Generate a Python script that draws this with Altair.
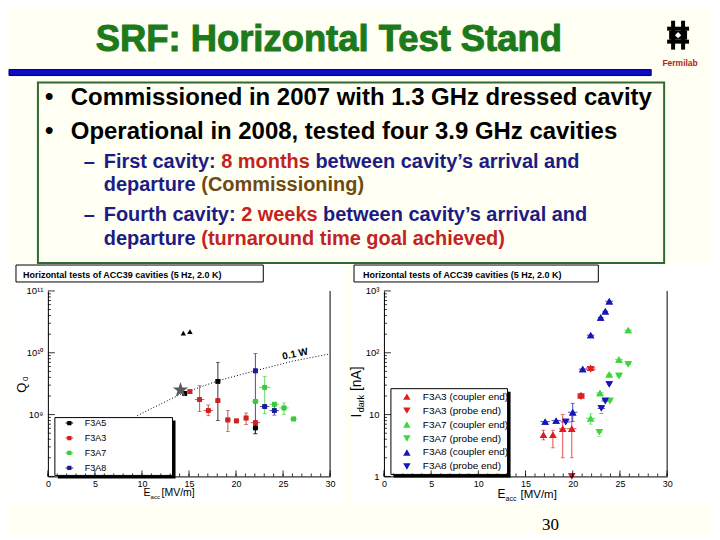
import altair as alt
import pandas as pd

SANS = "Liberation Sans, Arial, Helvetica, sans-serif"
SERIF = "Liberation Serif, Times New Roman, serif"
BG = "#fffff3"
GREEN_T = "#1c7a1c"
NAVY = "#1c1c84"
RED_T = "#c22323"
BROWN = "#6e4a12"

# ---------------- slide text ----------------
TITLE = "SRF: Horizontal Test Stand"
LOGO_TEXT = "Fermilab"
BULLETS = ["Commissioned in 2007 with 1.3 GHz dressed cavity",
           "Operational in 2008, tested four 3.9 GHz cavities"]
SUB1 = [["First cavity:", "8 months", "between cavity\u2019s arrival and"],
        ["departure", "(Commissioning)"]]
SUB2 = [["Fourth cavity:", "2 weeks", "between cavity\u2019s arrival and"],
        ["departure", "(turnaround time goal achieved)"]]
PLOT_TITLE = "Horizontal tests of ACC39 cavities (5 Hz, 2.0 K)"
PAGE_NUMBER = "30"

# ---------------- left plot: Q0 vs Eacc ----------------
L_SERIES = ["F3A5", "F3A3", "F3A7", "F3A8"]
L_COLORS = ["#000000", "#cc2222", "#36cc36", "#1c1c92"]

F3A5_E = [14.55, 18.07, 22.06]
F3A5_Q = [2.2e9, 3.45e9, 6.1e8]
F3A5_LO = [None, 8.0e8, 4.9e8]
F3A5_HI = [None, 7.0e9, 7.5e8]
F3A5_XE = [0.0, 0.0, 0.3]

F3A3_E = [15.1, 16.13, 17.05, 18.07, 19.13, 20.05, 21.07, 22.06]
F3A3_Q = [2.35e9, 1.75e9, 1.16e9, 1.68e9, 8.2e8, 7.9e8, 8.8e8, 7.4e8]
F3A3_LO = [None, 1.12e9, 9.6e8, None, 5.3e8, None, 6.9e8, None]
F3A3_HI = [None, 2.94e9, 1.43e9, None, 1.16e9, None, 1.06e9, None]
F3A3_XE = [0.0, 0.5, 0.5, 0.0, 0.3, 0.3, 0.0, 0.5]

F3A7_E = [22.06, 23.05, 24.07, 25.1, 26.12]
F3A7_Q = [1.64e9, 2.76e9, 1.47e9, 1.28e9, 8.5e8]
F3A7_LO = [None, 1.03e9, None, 1.01e9, None]
F3A7_HI = [None, 4.15e9, None, 1.54e9, None]
F3A7_XE = [0.4, 0.6, 0.5, 0.5, 0.4]

F3A8_E = [22.06, 23.05, 24.07]
F3A8_Q = [5.1e9, 1.35e9, 1.16e9]
F3A8_LO = [4.9e8, None, 9.8e8]
F3A8_HI = [9.7e9, None, 1.4e9]
F3A8_XE = [0.0, 0.5, 0.5]

TRI_E = [14.4, 15.1]          # black triangles (no legend entry)
TRI_Q = [2.08e10, 2.2e10]
STAR_E = [14.1]               # grey star
STAR_Q = [2.5e9]

LINE_E = [9.5, 14.0, 18.0, 22.0, 26.0, 30.0]   # 0.1 W curve
LINE_Q = [9.6e8, 2.1e9, 3.5e9, 5.1e9, 7.3e9, 9.6e9]
LINE_LABEL = "0.1 W"
LINE_LABEL_E = [25.0]
LINE_LABEL_Q = [7.7e9]

# ---------------- right plot: Idark vs Eacc ----------------
R_SERIES = ["F3A3 (coupler end)", "F3A3 (probe end)", "F3A7 (coupler end)",
            "F3A7 (probe end)", "F3A8 (coupler end)", "F3A8 (probe end)"]
R_COLORS = ["#dc1e1e", "#dc1e1e", "#3ed63e", "#3ed63e", "#1616b4", "#1616b4"]
R_SHAPES = ["triangle-up", "triangle-down", "triangle-up", "triangle-down",
            "triangle-up", "triangle-down"]

R33C_E = [16.9, 17.9, 18.94, 19.9, 20.88, 21.9]
R33C_I = [4.7, 4.7, 5.9, 5.9, 20.5, 57.0]
R33C_LO = [3.9, 2.9, 2.0, 2.0, None, None]
R33C_HI = [5.6, 5.6, 10.0, 10.0, None, None]
R33C_XE = [0.0, 0.0, 0.4, 0.5, 0.4, 0.5]

R33P_E = [19.9, 20.88, 21.9]
R33P_I = [1.0, 19.5, 54.0]
R33P_LO = [None, None, None]
R33P_HI = [None, None, None]
R33P_XE = [0.0, 0.4, 0.5]

R37C_E = [21.9, 22.89, 23.87, 24.9, 25.88]
R37C_I = [8.7, 22.4, 44.7, 78.0, 232.0]
R37C_LO = [7.0, None, None, None, None]
R37C_HI = [10.3, None, None, None, None]
R37C_XE = [0.5, 0.4, 0.3, 0.4, 0.4]

R37P_E = [22.82, 23.94, 24.9, 25.88]
R37P_I = [5.2, 16.6, 42.0, 65.0]
R37P_LO = [4.4, None, None, None]
R37P_HI = [None, None, None, None]
R37P_XE = [0.3, 0.3, 0.3, 0.3]

R38C_E = [17.08, 18.24, 20.0, 21.06, 21.9, 22.96, 23.45, 23.87]
R38C_I = [7.7, 8.0, 10.9, 54.6, 193.0, 372.0, 470.0, 681.0]
R38C_LO = [None, None, 7.7, None, None, None, None, None]
R38C_HI = [None, None, 15.2, None, None, None, None, None]
R38C_XE = [0.5, 0.5, 0.5, 0.4, 0.4, 0.3, 0.3, 0.4]

R38P_E = [19.26, 23.03, 23.45, 23.87]
R38P_I = [7.6, 12.6, 16.6, 30.8]
R38P_LO = [None, 10.5, None, None]
R38P_HI = [None, None, None, None]
R38P_XE = [0.5, 0.4, 0.4, 0.2]

X_LABELS = [0, 5, 10, 15, 20, 25, 30]
X_MINOR = list(range(0, 31))
YL_LABELS = [1e9, 1e10, 1e11]
YL_MAJOR = [1e8, 1e9, 1e10, 1e11]
YL_MINOR = [m * 10 ** e for e in (8, 9, 10) for m in range(2, 10)]
YR_LABELS = [1, 10, 100, 1000]
YR_MINOR = [m * 10 ** e for e in (0, 1, 2) for m in range(2, 10)]


def rows(series, E, V, LO, HI, XE):
    return [dict(series=series, E=e, V=v, lo=lo, hi=hi, xerr=xe)
            for e, v, lo, hi, xe in zip(E, V, LO, HI, XE)]


dfL = pd.DataFrame(rows("F3A5", F3A5_E, F3A5_Q, F3A5_LO, F3A5_HI, F3A5_XE)
                   + rows("F3A3", F3A3_E, F3A3_Q, F3A3_LO, F3A3_HI, F3A3_XE)
                   + rows("F3A7", F3A7_E, F3A7_Q, F3A7_LO, F3A7_HI, F3A7_XE)
                   + rows("F3A8", F3A8_E, F3A8_Q, F3A8_LO, F3A8_HI, F3A8_XE))
dfR = pd.DataFrame(rows(R_SERIES[0], R33C_E, R33C_I, R33C_LO, R33C_HI, R33C_XE)
                   + rows(R_SERIES[1], R33P_E, R33P_I, R33P_LO, R33P_HI, R33P_XE)
                   + rows(R_SERIES[2], R37C_E, R37C_I, R37C_LO, R37C_HI, R37C_XE)
                   + rows(R_SERIES[3], R37P_E, R37P_I, R37P_LO, R37P_HI, R37P_XE)
                   + rows(R_SERIES[4], R38C_E, R38C_I, R38C_LO, R38C_HI, R38C_XE)
                   + rows(R_SERIES[5], R38P_E, R38P_I, R38P_LO, R38P_HI, R38P_XE))

ONE = alt.Data(values=[{"k": 0}])


def txt(s, x, y, size, color="black", weight="bold", font=SANS, align="left",
        angle=0, baseline="alphabetic", stroke=None, sw=0):
    kw = dict(text=s, fontSize=size, color=color, fontWeight=weight, font=font,
              align=align, baseline=baseline, angle=angle)
    if stroke:
        kw.update(stroke=stroke, strokeWidth=sw)
    return alt.Chart(ONE).mark_text(**kw).encode(x=alt.value(x), y=alt.value(y))


def rect(x, y, x2, y2, fill, stroke="transparent", sw=0):
    return alt.Chart(ONE).mark_rect(fill=fill, stroke=stroke, strokeWidth=sw).encode(
        x=alt.value(x), y=alt.value(y), x2=alt.value(x2), y2=alt.value(y2))


# ================= header =================
# header coordinates: x = page - 47 (left plot origin), y = page - 8
OX = -39
HW, HH = 283, 283


def hx(v):
    return v + OX


header = alt.layer(
    rect(hx(0), 0, hx(704), 256, BG),
    txt(TITLE, hx(87), 42, 36.5, GREEN_T, stroke=GREEN_T, sw=1.0),
    # logo
    rect(hx(664), 12, hx(668), 41, "black"),
    rect(hx(674), 12, hx(678), 41, "black"),
    rect(hx(660), 18, hx(682), 22, "black"),
    rect(hx(660), 31, hx(682), 35, "black"),
    rect(hx(662), 22, hx(680), 31, "black"),
    alt.Chart(ONE).mark_point(shape="diamond", filled=True, color="white", size=40, opacity=1).encode(
        x=alt.value(hx(671)), y=alt.value(26.5)),
    txt(LOGO_TEXT, hx(673), 57, 8.5, "#b22222", align="center"),
    # blue bar and green frame
    rect(hx(0), 61, hx(644), 67, "#0c0cc8", "#00004a", 1),
    rect(hx(29), 74, hx(657), 255, "transparent", "#2f6b2f", 2),
    # bullets
    txt("\u2022", hx(36), 97, 24), txt(BULLETS[0], hx(62), 97, 24),
    txt("\u2022", hx(36), 131, 24), txt(BULLETS[1], hx(62), 131, 24),
    txt("\u2013", hx(75), 160, 20, NAVY),
    txt(SUB1[0][0], hx(95), 160, 20, NAVY), txt(SUB1[0][1], hx(212.8), 160, 20, RED_T),
    txt(SUB1[0][2], hx(307.3), 160, 20, NAVY),
    txt(SUB1[1][0], hx(95), 183, 20, NAVY), txt(SUB1[1][1], hx(192.8), 183, 20, BROWN),
    txt("\u2013", hx(75), 213, 20, NAVY),
    txt(SUB2[0][0], hx(95), 213, 20, NAVY), txt(SUB2[0][1], hx(232.8), 213, 20, RED_T),
    txt(SUB2[0][2], hx(315), 213, 20, NAVY),
    txt(SUB2[1][0], hx(95), 237, 20, NAVY), txt(SUB2[1][1], hx(192.8), 237, 20, RED_T),
).properties(width=HW, height=HH)

# ================= plots =================
W, H = 283, 186
xs = alt.Scale(domain=[0, 30], nice=False, zero=False)


def x_axis():
    return alt.Axis(values=X_LABELS, title=None, ticks=False, grid=False, labelFontSize=9,
                    labelFont=SANS, labelColor="black", labelPadding=3, domainColor="black",
                    labelFlush=False, labelOverlap=False, zindex=1)


def y_axis(values, expr):
    return alt.Axis(values=values, labelExpr=expr, title=None, ticks=False, grid=False,
                    labelFontSize=9.5, labelFont=SANS, labelColor="black", labelPadding=5,
                    domainColor="black", labelFlush=False, labelOverlap=False, zindex=1)


def tick_rules(vals, axis_ch, scale, axis, length, W, H):
    c = alt.Chart(pd.DataFrame({"v": vals})).mark_rule(color="black", strokeWidth=0.8)
    if axis_ch == "x":
        return c.encode(x=alt.X("v:Q", scale=scale, axis=axis), y=alt.value(H), y2=alt.value(H - length))
    return c.encode(y=alt.Y("v:Q", scale=scale, axis=axis), x=alt.value(0), x2=alt.value(length))


def error_layers(df, xsc, xax, ysc, yax, color_field):
    base = alt.Chart(df)
    X = alt.X("E:Q", scale=xsc, axis=xax)
    Y = alt.Y("V:Q", scale=ysc, axis=yax)
    vert = base.transform_filter("isValid(datum.lo) && isValid(datum.hi)").mark_rule(strokeWidth=0.8).encode(
        x=X, y=alt.Y("lo:Q", scale=ysc, axis=yax), y2="hi:Q", color=color_field)
    caps_lo = base.transform_filter("isValid(datum.lo)").mark_tick(orient="horizontal", size=4, thickness=0.8).encode(
        x=X, y=alt.Y("lo:Q", scale=ysc, axis=yax), color=color_field)
    caps_hi = base.transform_filter("isValid(datum.hi)").mark_tick(orient="horizontal", size=4, thickness=0.8).encode(
        x=X, y=alt.Y("hi:Q", scale=ysc, axis=yax), color=color_field)
    horiz = base.transform_filter("datum.xerr > 0").transform_calculate(
        x1="datum.E - datum.xerr", x2="datum.E + datum.xerr").mark_rule(strokeWidth=0.8).encode(
        x=alt.X("x1:Q", scale=xsc, axis=xax), x2="x2:Q", y=Y, color=color_field)
    return [vert, caps_lo, caps_hi, horiz]


# ---------- left ----------
ysL = alt.Scale(type="log", domain=[1e8, 1e11], nice=False)
AXL_X = x_axis()
AXL_Y = y_axis(YL_LABELS, "datum.value > 5e10 ? '10\u00b9\u00b9' : (datum.value > 5e9 ? '10\u00b9\u2070' : '10\u2079')")
XL = alt.X("E:Q", scale=xs, axis=AXL_X)
YL = alt.Y("V:Q", scale=ysL, axis=AXL_Y)
colL = alt.Scale(domain=L_SERIES, range=L_COLORS)
LEG_SYMBOL = "M-1,-0.12H1V0.12H-1Z M-0.55,-0.55H0.55V0.55H-0.55Z"
LEG_L = alt.Legend(orient="none", legendX=17, legendY=128, title=None, labelFont=SANS,
                   labelFontSize=9, labelColor="black", symbolType=LEG_SYMBOL, symbolSize=60,
                   symbolStrokeWidth=0, rowPadding=5, labelOffset=11, padding=0, zindex=2)
STAR = ("M0,-1 L0.235,-0.324 L0.951,-0.309 L0.380,0.124 L0.588,0.809 L0,0.4 "
        "L-0.588,0.809 L-0.380,0.124 L-0.951,-0.309 L-0.235,-0.324 Z")


def left_points(legend):
    return alt.Chart(dfL).mark_point(filled=True, shape="square", size=22, opacity=1).encode(
        x=XL, y=YL, color=alt.Color("series:N", scale=colL, legend=legend))


line_df = pd.DataFrame({"E": LINE_E, "V": LINE_Q})
left_layers = [
    rect(-39, -27, 298, 214, "white"),
    rect(-32, -26, 216, -9, "white", "black", 1),
    txt(PLOT_TITLE, -25, -12.5, 9),
    alt.Chart(line_df).mark_line(color="black", strokeDash=[1, 2], strokeWidth=1).encode(x=XL, y=YL),
    rect(10, 130, 128, 188, "black"),
    rect(7, 127, 125, 185, "white", "black", 1),
    left_points(LEG_L),
]
left_layers += error_layers(dfL, xs, AXL_X, ysL, AXL_Y, alt.Color("series:N", scale=colL, legend=None))
left_layers += [
    left_points(None),
    alt.Chart(pd.DataFrame({"E": TRI_E, "V": TRI_Q})).mark_point(
        filled=True, shape="triangle-up", size=30, color="black", opacity=1).encode(x=XL, y=YL),
    alt.Chart(pd.DataFrame({"E": STAR_E, "V": STAR_Q})).mark_point(
        filled=True, shape=STAR, size=260, color="#5a5a5a", opacity=1).encode(x=XL, y=YL),
    alt.Chart(pd.DataFrame({"E": LINE_LABEL_E, "V": LINE_LABEL_Q, "t": [LINE_LABEL]})).mark_text(
        fontSize=10, fontWeight="bold", font=SANS, align="left", baseline="alphabetic", angle=348,
        color="black").encode(x=XL, y=YL, text="t:N"),
    tick_rules(X_MINOR, "x", xs, AXL_X, 3, W, H),
    tick_rules(X_LABELS, "x", xs, AXL_X, 6, W, H),
    tick_rules(YL_MINOR, "y", ysL, AXL_Y, 3, W, H),
    tick_rules(YL_MAJOR, "y", ysL, AXL_Y, 7, W, H),
    alt.Chart(ONE).mark_rule(color="black", strokeWidth=1).encode(
        x=alt.value(W), y=alt.value(0), y2=alt.value(H)),
    txt("E", 96, 206, 10.5, weight="normal"),
    txt("acc", 103, 208.5, 6, weight="normal"),
    txt("[MV/m]", 114, 206, 10.5, weight="normal"),
    txt("Q", -26, 97, 13, weight="normal", align="center", angle=270, baseline="middle"),
    txt("0", -22, 88, 8, weight="normal", align="center", angle=270, baseline="middle"),
]
left = alt.layer(*left_layers).properties(width=W, height=H)

# ---------- right ----------
WR = 284
xsR = alt.Scale(domain=[0, 30], nice=False, zero=False)
ysR = alt.Scale(type="log", domain=[1, 1000], nice=False)
AXR_X = x_axis()
AXR_Y = y_axis(YR_LABELS, "datum.value > 500 ? '10\u00b3' : (datum.value > 50 ? '10\u00b2' : (datum.value > 5 ? '10' : '1'))")
XR = alt.X("E:Q", scale=xsR, axis=AXR_X)
YR = alt.Y("V:Q", scale=ysR, axis=AXR_Y)
colR = alt.Scale(domain=R_SERIES, range=R_COLORS)
shpR = alt.Scale(domain=R_SERIES, range=R_SHAPES)
LEG_R = alt.Legend(orient="none", legendX=18, legendY=101, title=None, labelFont=SANS,
                   labelFontSize=10, labelColor="black", symbolSize=55, symbolStrokeWidth=0,
                   rowPadding=4, labelOffset=11, padding=0, zindex=2)


def right_points(legend):
    return alt.Chart(dfR).mark_point(filled=True, size=55, opacity=1).encode(
        x=XR, y=YR,
        color=alt.Color("series:N", scale=colR, legend=legend),
        shape=alt.Shape("series:N", scale=shpR, legend=legend))


right_layers = [
    rect(-33, -27, 329, 214, "white"),
    rect(-30, -26, 215, -9, "white", "black", 1),
    txt(PLOT_TITLE, -21, -12.5, 9),
    rect(10, 101, 127, 187, "black"),
    rect(7, 98, 124, 184, "white", "black", 1),
    right_points(LEG_R),
]
right_layers += error_layers(dfR, xsR, AXR_X, ysR, AXR_Y, alt.Color("series:N", scale=colR, legend=None))
right_layers += [
    right_points(None),
    tick_rules(X_MINOR, "x", xsR, AXR_X, 3, WR, H),
    tick_rules(X_LABELS, "x", xsR, AXR_X, 6, WR, H),
    tick_rules(YR_MINOR, "y", ysR, AXR_Y, 3, WR, H),
    tick_rules(YR_LABELS, "y", ysR, AXR_Y, 7, WR, H),
    alt.Chart(ONE).mark_rule(color="black", strokeWidth=1).encode(
        x=alt.value(WR), y=alt.value(0), y2=alt.value(H)),
    txt("E", 114, 208, 12, weight="normal"),
    txt("acc", 122, 210.5, 7, weight="normal"),
    txt("[MV/m]", 137, 208, 11.5, weight="normal"),
    txt("I", -27, 125, 14, weight="normal", align="center", angle=270, baseline="middle"),
    txt("dark", -23, 113, 9, weight="normal", align="center", angle=270, baseline="middle"),
    txt("[nA]", -27, 88, 14, weight="normal", align="center", angle=270, baseline="middle"),
    txt(PAGE_NUMBER, 167, 240, 17, weight="normal", font=SERIF, align="center"),
]
right = alt.layer(*right_layers).properties(width=WR, height=H)

row = alt.hconcat(left, right, spacing=5).resolve_scale(
    color="independent", shape="independent").resolve_legend(color="independent", shape="independent")
chart = alt.vconcat(header, row, spacing=0, bounds="flush").properties(
    padding=0, background=BG).configure_view(stroke=None)

chart.save("out.html", embed_options={"renderer": "svg", "actions": False})
